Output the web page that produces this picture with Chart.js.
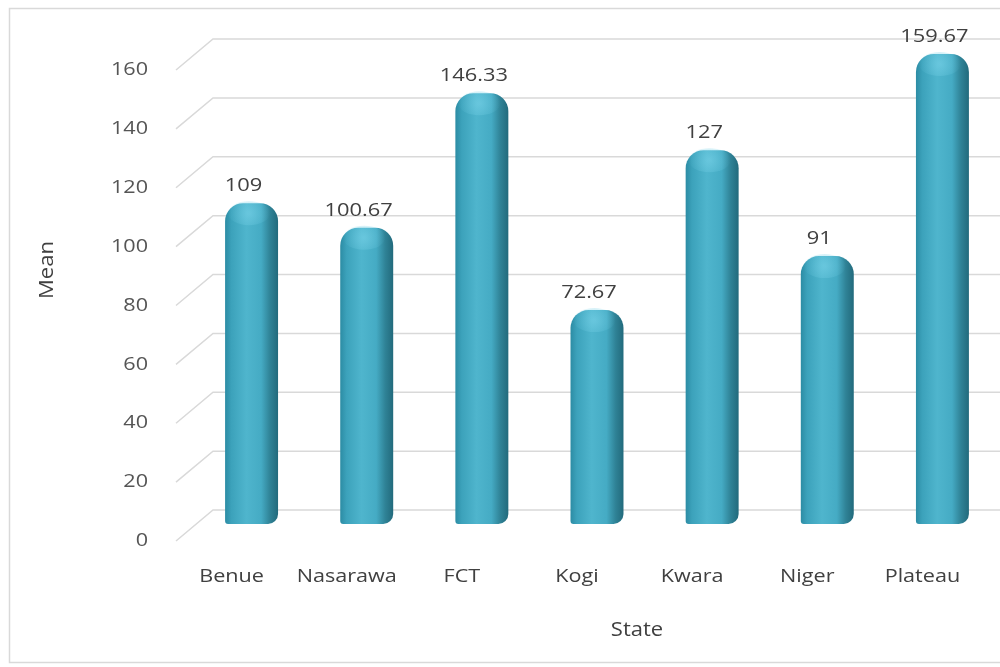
<!DOCTYPE html>
<html>
<head>
<meta charset="utf-8">
<script src="https://cdn.jsdelivr.net/npm/chart.js@4/dist/chart.umd.min.js"></script>
<style>
  html, body { margin: 0; padding: 0; background: #fff; overflow: hidden; }
  #wrap { width: 1000px; height: 667px; }
</style>
</head>
<body>
<div id="wrap"><canvas id="meanChart" width="1000" height="667"></canvas></div>
<script>
const states = ['Benue', 'Nasarawa', 'FCT', 'Kogi', 'Kwara', 'Niger', 'Plateau'];
const means = [109, 100.67, 146.33, 72.67, 127, 91, 159.67];
const valueLabels = ['109', '100.67', '146.33', '72.67', '127', '91', '159.67'];
const yMin = 0, yMax = 160, yStep = 20;

const FONT = '"Open Sans", "Noto Sans", sans-serif';

function barGradient(ctx) {
    const chart = ctx.chart;
    const xs = chart.scales.x;
    if (!xs || !chart.chartArea) return '#45a9c2';
    const cx = xs.getPixelForValue(ctx.dataIndex);
    const w = (xs.getPixelForValue(1) - xs.getPixelForValue(0)) * 0.46;
    const g = chart.ctx.createLinearGradient(cx - w / 2, 0, cx + w / 2, 0);
    g.addColorStop(0, '#2c8ca4');
    g.addColorStop(0.12, '#3ca2bb');
    g.addColorStop(0.4, '#4fb5cd');
    g.addColorStop(0.68, '#45abc4');
    g.addColorStop(0.85, '#2f8296');
    g.addColorStop(1, '#226a7c');
    return g;
}

// draw text stretched a bit horizontally, like the original
function wideText(c, text, x, y, sx) {
    c.save();
    c.translate(x, y);
    c.scale(sx, 1);
    c.fillText(text, 0, 0);
    c.restore();
}

// frame, back wall grid, tick labels, titles, value labels
const decor = {
    id: 'decor',
    beforeDraw(chart) {
        const c = chart.ctx;
        const ys = chart.scales.y;
        c.save();
        c.strokeStyle = '#d9d9d9';
        c.lineWidth = 1.5;
        c.strokeRect(9.5, 8.5, 1010, 654);

        c.font = '18px ' + FONT;
        c.fillStyle = '#555555';
        c.textAlign = 'right';
        c.textBaseline = 'middle';
        ys.ticks.forEach(t => {
            const y = ys.getPixelForValue(t.value);
            const back = y - 14;
            const front = y + 17;
            c.beginPath();
            c.moveTo(176, front);
            c.lineTo(213, back);
            c.lineTo(1000, back);
            c.stroke();
            wideText(c, String(t.value), 148, front, 1.2);
        });
        c.restore();
    },
    afterDatasetsDraw(chart) {
        const c = chart.ctx;
        const meta = chart.getDatasetMeta(0);
        const xs = chart.scales.x;
        c.save();
        // cap highlight
        meta.data.forEach(bar => {
            const w = bar.width;
            const g = c.createRadialGradient(bar.x - w * 0.05, bar.y + 10, 1, bar.x - w * 0.05, bar.y + 10, w * 0.4);
            g.addColorStop(0, 'rgba(120,210,232,0.6)');
            g.addColorStop(1, 'rgba(120,210,232,0)');
            c.fillStyle = g;
            c.beginPath();
            c.ellipse(bar.x - w * 0.05, bar.y + 10, w * 0.4, 12, 0, 0, Math.PI * 2);
            c.fill();
        });
        // value labels
        c.font = '19px ' + FONT;
        c.fillStyle = '#404040';
        c.textAlign = 'center';
        c.textBaseline = 'alphabetic';
        meta.data.forEach((bar, i) => {
            wideText(c, valueLabels[i], bar.x - 8, bar.y - 12, 1.15);
        });
        // category labels
        c.font = '18px ' + FONT;
        c.textBaseline = 'middle';
        states.forEach((s, i) => {
            wideText(c, s, xs.getPixelForValue(i) - 20, 577, 1.2);
        });
        // axis titles
        c.font = '20px ' + FONT;
        wideText(c, 'State', 637, 630, 1.1);
        c.translate(47, 270);
        c.rotate(-Math.PI / 2);
        wideText(c, 'Mean', 0, 0, 1.1);
        c.restore();
    }
};

new Chart(document.getElementById('meanChart'), {
    type: 'bar',
    data: {
        labels: states,
        datasets: [{
            label: 'Mean',
            data: means,
            backgroundColor: barGradient,
            borderWidth: 0,
            borderSkipped: false,
            borderRadius: { topLeft: 18, topRight: 18, bottomLeft: 3, bottomRight: 10 },
            barPercentage: 0.46,
            categoryPercentage: 1
        }]
    },
    options: {
        responsive: false,
        animation: false,
        layout: { padding: { left: 194, right: 0, top: 53, bottom: 143 } },
        plugins: { legend: { display: false }, tooltip: { enabled: false } },
        scales: {
            x: { display: false, offset: true },
            y: {
                display: false,
                min: yMin,
                max: yMax,
                ticks: { stepSize: yStep }
            }
        }
    },
    plugins: [decor]
});
</script>
</body>
</html>
